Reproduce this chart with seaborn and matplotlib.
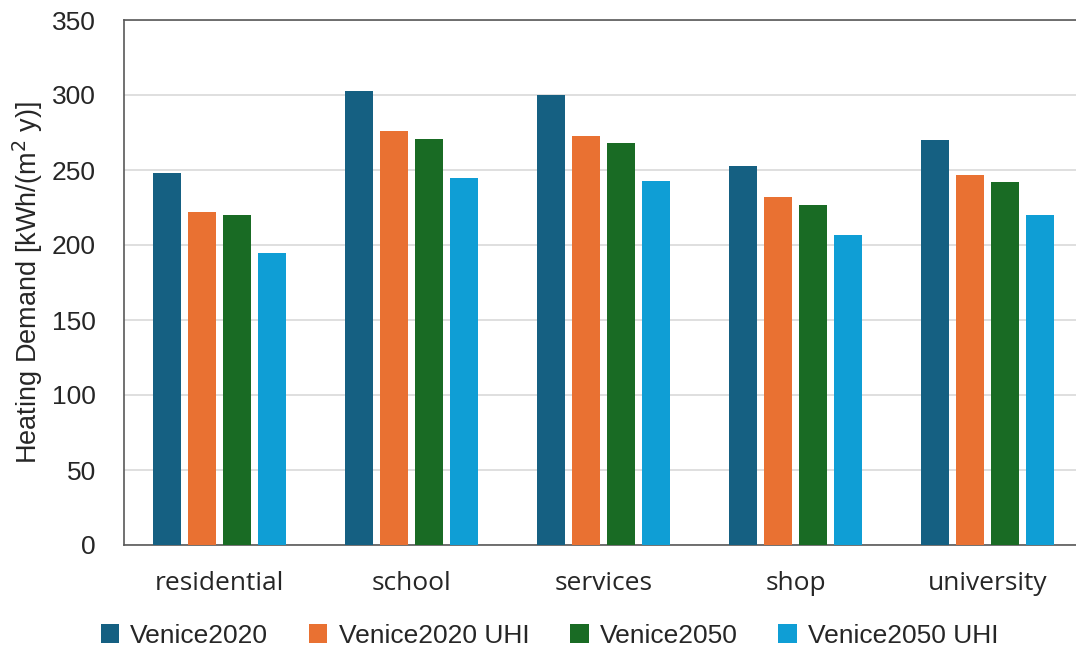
import pandas as pd
import seaborn as sns
import matplotlib.pyplot as plt

categories = ['residential', 'school', 'services', 'shop', 'university']
venice2020 = [248, 303, 300, 253, 270]
venice2020_uhi = [222, 276, 273, 232, 247]
venice2050 = [220, 271, 268, 227, 242]
venice2050_uhi = [195, 245, 243, 207, 220]
series_names = ['Venice2020', 'Venice2020 UHI', 'Venice2050', 'Venice2050 UHI']
colors = ['#156082', '#E97132', '#196B24', '#0F9ED5']

df = pd.DataFrame({
    'building': categories * 4,
    'scenario': [s for s in series_names for _ in categories],
    'value': venice2020 + venice2020_uhi + venice2050 + venice2050_uhi,
})

sns.set_style('white')
plt.rcParams['font.family'] = ['Liberation Sans', 'DejaVu Sans']

fig = plt.figure(figsize=(10.76, 6.49), dpi=100)
ax = fig.add_axes([123.5 / 1076, 104 / 649, 960 / 1076, 525 / 649])

sns.barplot(data=df, x='building', y='value', hue='scenario', palette=colors,
            saturation=1, width=0.73, gap=0.2, linewidth=0, edgecolor='none',
            ax=ax, zorder=3)

ax.set_ylim(0, 350)
ax.set_xlim(-0.5, 4.5)
ax.set_yticks(range(0, 351, 50))
ax.yaxis.grid(True, color='#d9d9d9', linewidth=1.2, zorder=0)
ax.set_axisbelow(True)
ax.tick_params(axis='y', labelsize=19, length=0, pad=20)
ax.tick_params(axis='x', labelsize=19, length=0, pad=19)
for lab in ax.get_xticklabels():
    lab.set_family(['Open Sans', 'DejaVu Sans'])
ax.set_xlabel('')
ax.set_ylabel('Heating Demand [kWh/(m$^2$ y)]', fontsize=19.5, labelpad=5)

for side in ['left', 'top', 'bottom']:
    ax.spines[side].set_color('#595959')
    ax.spines[side].set_linewidth(1.2)
ax.spines['right'].set_visible(False)

ax.legend(loc='upper center', bbox_to_anchor=(426 / 960, -0.13), ncol=4, frameon=False,
          fontsize=19, handlelength=0.7, handleheight=0.7, handletextpad=0.42,
          columnspacing=1.55, borderaxespad=0)

plt.savefig('out.png', dpi=100)
